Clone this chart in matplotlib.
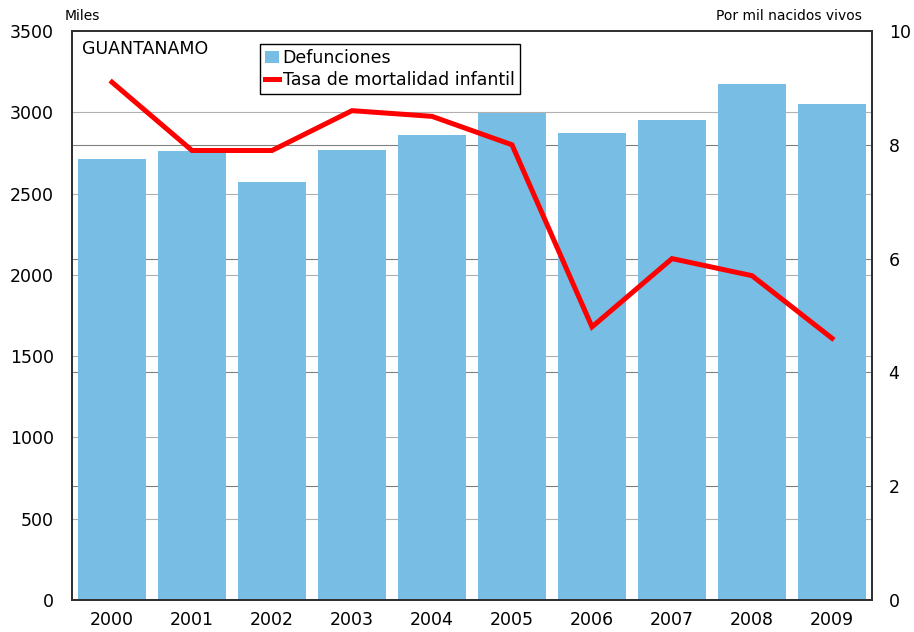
import matplotlib
matplotlib.use("Agg")
import matplotlib.pyplot as plt
import numpy as np

years = ["2000", "2001", "2002", "2003", "2004", "2005", "2006", "2007", "2008", "2009"]
defunciones = [2710, 2760, 2570, 2765, 2860, 2995, 2875, 2955, 3175, 3050]
tasa = [9.1, 7.9, 7.9, 8.6, 8.5, 8.0, 4.8, 6.0, 5.7, 4.6]
left_ticks = [0, 500, 1000, 1500, 2000, 2500, 3000, 3500]
right_ticks = [0, 2, 4, 6, 8, 10]

plt.rcParams['font.family'] = ['DejaVu Sans']

fig = plt.figure(figsize=(9.14, 6.32), dpi=100)
ax = fig.add_axes([72/914, 32/632, 800/914, 569/632])
ax2 = ax.twinx()

x = np.arange(len(years))
ax.set_xlim(-0.5, len(years) - 0.5)
ax.set_ylim(0, 3500)
ax2.set_ylim(0, 10)

for t in left_ticks[1:-1]:
    ax.axhline(t, color="#b0b0b0", lw=0.8, zorder=0)
for t in right_ticks[1:-1]:
    ax.axhline(t * 350, color="#808080", lw=0.8, zorder=0)

bars = ax.bar(x, defunciones, width=0.85, color="#78bde4", zorder=2, label="Defunciones")
line, = ax2.plot(x, tasa, color="#ff0000", lw=3.6, label="Tasa de mortalidad infantil",
                 solid_joinstyle="miter")

ax.set_xticks(x)
ax.set_xticklabels(years)
ax.set_yticks(left_ticks)
ax.set_yticklabels([str(t) for t in left_ticks])
ax2.set_yticks(right_ticks)
ax2.set_yticklabels([str(t) for t in right_ticks])

ax.tick_params(axis="x", length=0, labelsize=12.5, pad=8)
ax.tick_params(axis="y", length=0, labelsize=12.5, pad=13)
ax2.tick_params(axis="y", length=0, labelsize=12.5, pad=12)
for a in (ax, ax2):
    for s in a.spines.values():
        s.set_color("#303030")
        s.set_linewidth(1.3)

ax.text(0.012, 0.985, "GUANTANAMO", transform=ax.transAxes, ha="left", va="top", fontsize=12.5)
fig.text(65/914, 1 - 16/632, "Miles", ha="left", va="center", fontsize=10)
fig.text(862/914, 1 - 16/632, "Por mil nacidos vivos", ha="right", va="center", fontsize=10)

leg = ax.legend([bars, line], ["Defunciones", "Tasa de mortalidad infantil"],
                loc="upper left", bbox_to_anchor=(188/800, 1 - 13/569), fontsize=12.5,
                frameon=True, fancybox=False, edgecolor="black", framealpha=1,
                handlelength=0.8, handletextpad=0.2, borderpad=0.3, labelspacing=0.2,
                borderaxespad=0)
leg.get_frame().set_linewidth(1.0)
leg.set_zorder(5)

fig.savefig("out.png", dpi=100)
